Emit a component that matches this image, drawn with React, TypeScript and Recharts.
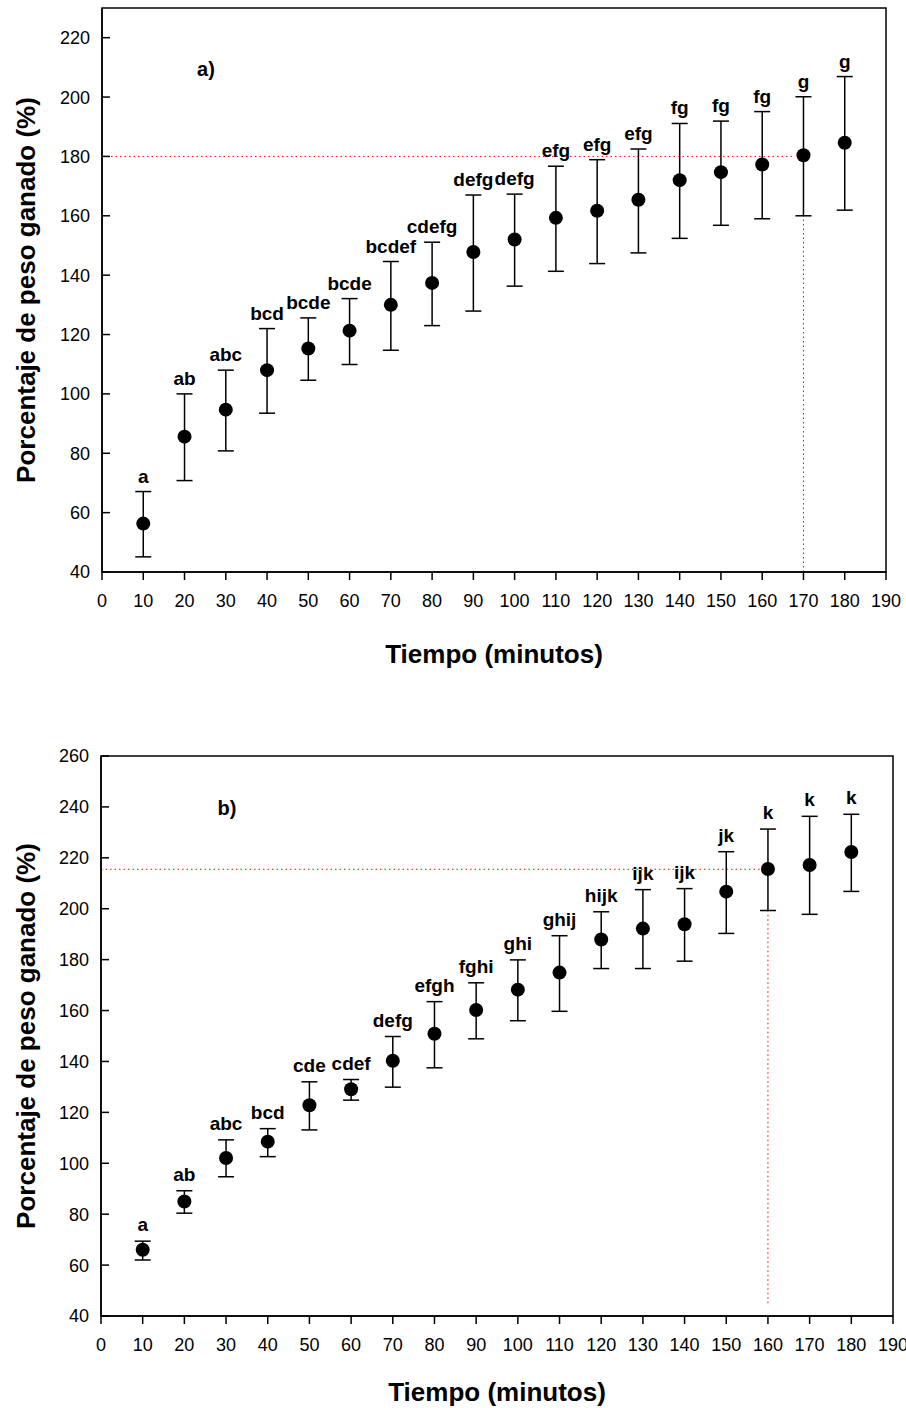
import React from "react";
import {
  ScatterChart,
  Scatter,
  XAxis,
  YAxis,
  ErrorBar,
  ReferenceLine,
  ReferenceArea,
  ReferenceDot,
  Label,
} from "recharts";

const FONT = "Arial, 'Liberation Sans', Helvetica, sans-serif";

// minutes
const TIMES = [10, 20, 30, 40, 50, 60, 70, 80, 90, 100, 110, 120, 130, 140, 150, 160, 170, 180];
const X_TICKS = [0, 10, 20, 30, 40, 50, 60, 70, 80, 90, 100, 110, 120, 130, 140, 150, 160, 170, 180, 190];

// panel a)
const TOP_MEAN = [56.3, 85.6, 94.7, 108.0, 115.3, 121.3, 130.0, 137.4, 147.8, 152.0, 159.3, 161.7, 165.4, 172.0, 174.7, 177.3, 180.4, 184.6];
const TOP_UPPER = [67.1, 100.0, 108.0, 122.0, 125.6, 132.1, 144.6, 151.1, 167.0, 167.3, 176.7, 178.9, 182.5, 191.1, 191.9, 195.1, 200.1, 206.9];
const TOP_LOWER = [45.1, 70.8, 80.8, 93.5, 104.6, 109.9, 114.7, 123.0, 127.9, 136.3, 141.3, 143.9, 147.5, 152.4, 156.8, 159.0, 160.0, 161.9];
const TOP_LETTERS = ["a", "ab", "abc", "bcd", "bcde", "bcde", "bcdef", "cdefg", "defg", "defg", "efg", "efg", "efg", "fg", "fg", "fg", "g", "g"];
const TOP_Y_TICKS = [40, 60, 80, 100, 120, 140, 160, 180, 200, 220];

// panel b)
const BOT_MEAN = [66.0, 85.0, 102.1, 108.5, 122.8, 129.1, 140.3, 150.9, 160.2, 168.2, 174.9, 187.9, 192.2, 193.9, 206.7, 215.6, 217.2, 222.3];
const BOT_UPPER = [69.4, 89.2, 109.2, 113.6, 132.0, 132.9, 149.8, 163.5, 170.9, 179.9, 189.4, 198.8, 207.5, 207.9, 222.4, 231.3, 236.3, 237.1];
const BOT_LOWER = [62.0, 80.4, 94.7, 102.6, 113.1, 124.8, 129.9, 137.5, 148.9, 156.0, 159.7, 176.5, 176.5, 179.4, 190.3, 199.3, 197.8, 206.8];
const BOT_LETTERS = ["a", "ab", "abc", "bcd", "cde", "cdef", "defg", "efgh", "fghi", "ghi", "ghij", "hijk", "ijk", "ijk", "jk", "k", "k", "k"];
const BOT_Y_TICKS = [40, 60, 80, 100, 120, 140, 160, 180, 200, 220, 240, 260];

const buildPoints = (mean: number[], upper: number[], lower: number[]) =>
  TIMES.map((t, i) => ({ x: t, y: mean[i], err: [mean[i] - lower[i], upper[i] - mean[i]] }));

const buildLabels = (upper: number[], letters: string[]) =>
  TIMES.map((t, i) => ({ x: t, y: upper[i], letter: letters[i] }));

const Dot = (p: any) => <circle cx={p.cx} cy={p.cy} r={7} fill="#000" />;

const YTick = (props: any) => {
  const { x, y, payload } = props;
  return (
    <g>
      <line x1={x + 12} x2={x + 20} y1={y} y2={y} stroke="#000" strokeWidth={1.5} />
      <text x={x} y={y} dy="0.36em" textAnchor="end" fontSize={18} fontFamily={FONT} fill="#000">
        {payload.value}
      </text>
    </g>
  );
};

type PanelProps = {
  top: number;
  height: number;
  margin: { top: number; right: number; left: number; bottom: number };
  yAxisWidth: number;
  xAxisHeight: number;
  titleOffset: number;
  letterGap: number;
  yDomain: [number, number];
  yTicks: number[];
  mean: number[];
  upper: number[];
  lower: number[];
  letters: string[];
  refX: number;
  refY: number;
  refXEnd: number;
  refYStart: number;
  refYEnd: number;
  tag: string;
  tagX: number;
  tagY: number;
};

const Panel: React.FC<PanelProps> = (p) => {
  const points = buildPoints(p.mean, p.upper, p.lower);
  const labels = buildLabels(p.upper, p.letters);
  const Letter = (s: any) => (
    <text
      x={s.cx}
      y={s.cy - p.letterGap}
      textAnchor="middle"
      fontSize={19}
      fontWeight="bold"
      fontFamily={FONT}
      fill="#000"
    >
      {s.payload.letter}
    </text>
  );

  return (
    <div style={{ position: "absolute", left: 0, top: p.top }}>
      <ScatterChart width={906} height={p.height} margin={p.margin}>
        <ReferenceArea
          x1={0}
          x2={190}
          y1={p.yDomain[0]}
          y2={p.yDomain[1]}
          fill="none"
          fillOpacity={0}
          stroke="#000"
          strokeWidth={1.5}
        />
        <XAxis
          type="number"
          dataKey="x"
          domain={[0, 190]}
          ticks={X_TICKS}
          interval={0}
          allowDataOverflow
          height={p.xAxisHeight}
          tickSize={8}
          tickMargin={14}
          axisLine={{ stroke: "#000", strokeWidth: 1.5 }}
          tickLine={{ stroke: "#000", strokeWidth: 1.5 }}
          tick={{ fill: "#000", fontSize: 18, fontFamily: FONT }}
        >
          <Label
            content={({ viewBox }: any) => (
              <text
                x={viewBox.x + viewBox.width / 2}
                y={viewBox.y + p.titleOffset}
                textAnchor="middle"
                fontSize={26}
                fontWeight="bold"
                fontFamily={FONT}
                fill="#000"
              >
                Tiempo (minutos)
              </text>
            )}
          />
        </XAxis>
        <YAxis
          type="number"
          dataKey="y"
          domain={p.yDomain}
          ticks={p.yTicks}
          interval={0}
          allowDataOverflow
          width={p.yAxisWidth}
          tickSize={0}
          tickMargin={12}
          tickLine={false}
          axisLine={{ stroke: "#000", strokeWidth: 1.5 }}
          tick={<YTick />}
        >
          <Label
            content={({ viewBox }: any) => {
              const cx = viewBox.x + 35;
              const cy = viewBox.y + viewBox.height / 2;
              return (
                <text
                  x={cx}
                  y={cy}
                  transform={`rotate(-90, ${cx}, ${cy})`}
                  textAnchor="middle"
                  fontSize={26}
                  fontWeight="bold"
                  fontFamily={FONT}
                  fill="#000"
                >
                  Porcentaje de peso ganado (%)
                </text>
              );
            }}
          />
        </YAxis>
        <ReferenceLine
          segment={[
            { x: 0, y: p.refY },
            { x: p.refXEnd, y: p.refY },
          ]}
          stroke="#ff0000"
          strokeWidth={1}
          strokeDasharray="1.5 3"
        />
        <ReferenceLine
          segment={[
            { x: p.refX, y: p.refYStart },
            { x: p.refX, y: p.refYEnd },
          ]}
          stroke="#ff0000"
          strokeWidth={1}
          strokeDasharray="1.5 3"
        />
        <ReferenceDot
          x={p.tagX}
          y={p.tagY}
          r={0}
          shape={(s: any) => (
            <text
              x={s.cx}
              y={s.cy}
              textAnchor="middle"
              fontSize={20}
              fontWeight="bold"
              fontFamily={FONT}
              fill="#000"
            >
              {p.tag}
            </text>
          )}
        />
        <Scatter data={points} shape={Dot} isAnimationActive={false}>
          <ErrorBar dataKey="err" direction="y" width={8} stroke="#000" strokeWidth={1.5} />
        </Scatter>
        <Scatter data={labels} shape={Letter} isAnimationActive={false} />
      </ScatterChart>
    </div>
  );
};

const App: React.FC = () => {
  return (
    <div style={{ position: "absolute", left: 0, top: 0, width: 906, height: 1408, background: "#fff" }}>
      <Panel
        top={0}
        height={700}
        margin={{ top: 8, right: 20, left: 0, bottom: 28 }}
        yAxisWidth={102}
        xAxisHeight={100}
        titleOffset={91}
        letterGap={9}
        yDomain={[40, 230]}
        yTicks={TOP_Y_TICKS}
        mean={TOP_MEAN}
        upper={TOP_UPPER}
        lower={TOP_LOWER}
        letters={TOP_LETTERS}
        refX={170}
        refY={180}
        refXEnd={168}
        refYStart={40}
        refYEnd={TOP_LOWER[16]}
        tag="a)"
        tagX={25.2}
        tagY={207}
      />
      <Panel
        top={740}
        height={668}
        margin={{ top: 16, right: 13, left: 0, bottom: 0 }}
        yAxisWidth={101}
        xAxisHeight={92}
        titleOffset={85}
        letterGap={10}
        yDomain={[40, 260]}
        yTicks={BOT_Y_TICKS}
        mean={BOT_MEAN}
        upper={BOT_UPPER}
        lower={BOT_LOWER}
        letters={BOT_LETTERS}
        refX={160}
        refY={215.5}
        refXEnd={158}
        refYStart={45}
        refYEnd={BOT_LOWER[15]}
        tag="b)"
        tagX={30.2}
        tagY={236.7}
      />
    </div>
  );
};

export default App;
